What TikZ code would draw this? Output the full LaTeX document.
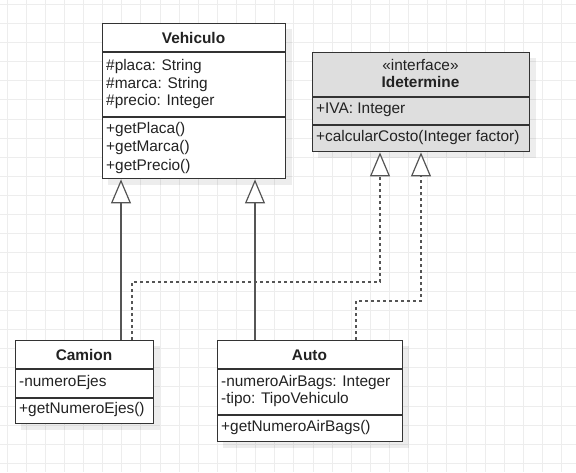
\documentclass[tikz,border=0pt]{standalone}
\usepackage{fontspec}
\setmainfont{Liberation Sans}
\usetikzlibrary{arrows.meta}
\definecolor{bordc}{HTML}{333333}
\definecolor{linec}{HTML}{555555}
\definecolor{gridc}{HTML}{EDEDED}
\definecolor{ifill}{HTML}{DEDEDE}
\definecolor{txtc}{HTML}{222222}
\tikzset{
  box/.style={draw=bordc, line width=1.4pt, fill=white, anchor=north west, inner sep=0pt},
  sepline/.style={draw=bordc, line width=1.2pt},
  shade/.style={fill=black, opacity=0.07},
  txt/.style={anchor=west, inner sep=0pt, text=txtc, font=\fontsize{15.4}{17.6}\selectfont},
  ttl/.style={inner sep=0pt, text=txtc, font=\fontsize{15.4}{17.6}\selectfont\bfseries},
  gen/.style={draw=linec, line width=1.4pt, -{Triangle[width=20pt,length=24pt,fill=white,line width=1.2pt]}},
  real/.style={draw=linec, line width=1.4pt, dash pattern=on 3pt off 3pt, -{Triangle[width=20pt,length=24pt,fill=white,line width=1.2pt,sep=0pt]}},
}
\begin{document}
\begin{tikzpicture}[x=1pt,y=-1pt]
\useasboundingbox (0,0) rectangle (576,472);
\fill[white] (0,0) rectangle (576,472);
% grid
\foreach \i in {0,...,29} {
  \draw[gridc, line width=1pt] ({7+19.13*\i},0) -- ({7+19.13*\i},472);
}
\foreach \j in {0,...,24} {
  \draw[gridc, line width=1pt] (0,{4.3+19.13*\j}) -- (576,{4.3+19.13*\j});
}
% shadows
\fill[shade] (108,29) rectangle (292,185);
\fill[shade] (318,58) rectangle (536,158);
\fill[shade] (21,346) rectangle (160,430);
\fill[shade] (223,346) rectangle (409,448);

% Vehiculo
\node[box, minimum width=183pt, minimum height=155pt] (veh) at (102,23) {};
\draw[sepline] (102,52) -- (285,52);
\draw[sepline] (102,117) -- (285,117);
\node[ttl] (vt) at (193.5,38) {Vehiculo};
\node[txt] (va1) at (106,67) {\#placa: String};
\node[txt] (va2) at (106,84.5) {\#marca: String};
\node[txt] (va3) at (106,102) {\#precio: Integer};
\node[txt] (vm1) at (106,130) {+getPlaca()};
\node[txt] (vm2) at (106,148) {+getMarca()};
\node[txt] (vm3) at (106,166.5) {+getPrecio()};

% Idetermine
\node[box, fill=ifill, minimum width=217pt, minimum height=99pt] (ifc) at (312,52) {};
\draw[sepline] (312,97) -- (529,97);
\draw[sepline] (312,125) -- (529,125);
\node[txt, anchor=center] (ist) at (420.5,65) {«interface»};
\node[ttl] (it) at (420.5,82) {Idetermine};
\node[txt] (ia1) at (316,110) {+IVA: Integer};
\node[txt] (im1) at (316,138) {+calcularCosto(Integer factor)};

% Camion
\node[box, minimum width=138pt, minimum height=83pt] (cam) at (15,340) {};
\draw[sepline] (15,369) -- (153,369);
\draw[sepline] (15,398) -- (153,398);
\node[ttl] (ct) at (84,355) {Camion};
\node[txt] (ca1) at (19,383) {-numeroEjes};
\node[txt] (cm1) at (19,410) {+getNumeroEjes()};

% Auto
\node[box, minimum width=185pt, minimum height=101pt] (aut) at (217,340) {};
\draw[sepline] (217,369) -- (402,369);
\draw[sepline] (217,415) -- (402,415);
\node[ttl] (at) at (309.5,355) {Auto};
\node[txt] (aa1) at (221,383) {-numeroAirBags: Integer};
\node[txt] (aa2) at (221,400) {-tipo: TipoVehiculo};
\node[txt] (am1) at (221,428) {+getNumeroAirBags()};

% connectors
\draw[gen] ([xshift=106pt]cam.north west) -- ([xshift=19pt]veh.south west);
\draw[gen] ([xshift=38pt]aut.north west) -- ([xshift=153pt]veh.south west);
\draw[real] ([xshift=117pt]cam.north west) -- ++(0,-58) -| ([xshift=68pt]ifc.south west);
\draw[real] ([xshift=139pt]aut.north west) -- ++(0,-39) -| ([xshift=109pt]ifc.south west);
\end{tikzpicture}
\end{document}
